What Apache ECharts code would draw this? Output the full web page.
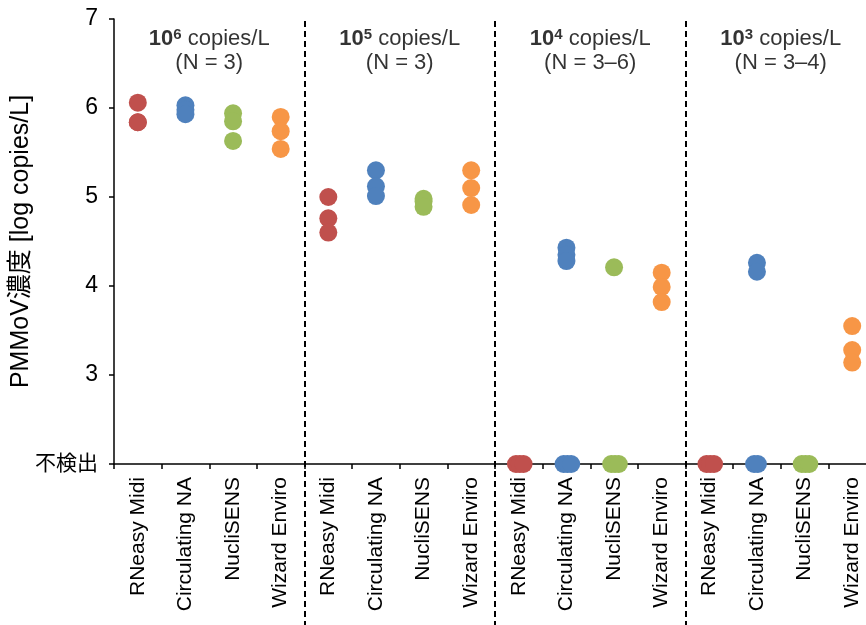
<!DOCTYPE html>
<html>
<head>
<meta charset="utf-8">
<script src="https://cdn.jsdelivr.net/npm/echarts@6/dist/echarts.min.js"></script>
<style>
html,body{margin:0;padding:0;background:#fff;}
#chart{width:866px;height:625px;}
</style>
</head>
<body>
<div id="chart"></div>
<script>
// ---- data ----
const methods = ['RNeasy Midi', 'Circulating NA', 'NucliSENS', 'Wizard Enviro'];
const groupExponents = ['6', '5', '4', '3'];
const groupN = ['3', '3', '3–6', '3–4'];
const yTicks = [3, 4, 5, 6, 7];
const ndLabel = '不検出';
const ndValue = 2;
// per method: one array per concentration group; 'ND' = not detected
const rneasy      = [[6.06, 5.84, 5.84], [5.00, 4.76, 4.60], ['ND', 'ND', 'ND'], ['ND', 'ND', 'ND']];
const circulating = [[6.03, 5.98, 5.93], [5.30, 5.12, 5.01], [4.43, 4.35, 4.28, 'ND', 'ND', 'ND'], [4.26, 4.16, 'ND', 'ND']];
const nuclisens   = [[5.94, 5.85, 5.63], [4.98, 4.95, 4.89], [4.21, 'ND', 'ND', 'ND'], ['ND', 'ND', 'ND']];
const wizard      = [[5.90, 5.74, 5.54], [5.30, 5.10, 4.91], [4.15, 3.99, 3.82], [3.55, 3.28, 3.14]];
const seriesValues = [rneasy, circulating, nuclisens, wizard];
const colors = ['#C0504D', '#4F81BD', '#9BBB59', '#F79646'];

// ---- build ----
const categories = [];
groupExponents.forEach(() => methods.forEach(m => categories.push(m)));
const ndSpread = [-0.06, 0.02, 0.1];

const series = methods.map((m, mi) => {
  const data = [];
  seriesValues[mi].forEach((vals, gi) => {
    const idx = gi * methods.length + mi;
    let nd = 0;
    vals.forEach(v => {
      if (v === 'ND') {
        data.push([idx + 0.5 + ndSpread[nd % ndSpread.length], ndValue]);
        nd++;
      } else {
        data.push([idx + 0.5, v]);
      }
    });
  });
  return {
    name: m, type: 'scatter', xAxisIndex: 1, yAxisIndex: 0,
    symbol: 'circle', symbolSize: 18,
    itemStyle: { color: colors[mi], opacity: 1 },
    emphasis: { disabled: true },
    data: data, z: 3
  };
});

const latin = 'Liberation Sans, Arial';
const headerData = groupExponents.map((e, gi) => ({
  value: [gi * methods.length + methods.length / 2, 6.64],
  label: {
    formatter: '{b|10}{sup|' + e + '}{n| copies/L}\n{n|(N = ' + groupN[gi] + ')}'
  }
}));
series.push({
  type: 'scatter', xAxisIndex: 1, yAxisIndex: 0, symbolSize: 0, silent: true,
  data: headerData,
  label: {
    show: true, position: 'inside', align: 'center', verticalAlign: 'middle',
    lineHeight: 24,
    rich: {
      b: { fontFamily: latin, fontSize: 22, fontWeight: 'bold', color: '#000', lineHeight: 24 },
      sup: { fontFamily: latin, fontSize: 15, fontWeight: 'bold', color: '#000', verticalAlign: 'top', lineHeight: 24, padding: [0, 0, 10, 0] },
      n: { fontFamily: latin, fontSize: 22, color: '#000', lineHeight: 24 }
    }
  }
});

const chart = echarts.init(document.getElementById('chart'), null, { renderer: 'canvas' });
const font = 'Liberation Sans, Arial, Noto Sans CJK JP';
chart.setOption({
  animation: false,
  backgroundColor: '#fff',
  grid: { left: 114, top: 19, width: 762, height: 445, containLabel: false, outerBoundsMode: 'none' },
  xAxis: [{
    type: 'category', data: categories, position: 'bottom',
    boundaryGap: true,
    axisLine: { show: true, lineStyle: { color: '#000', width: 1.5 } },
    axisTick: { show: true, alignWithLabel: false, length: 5, inside: false, lineStyle: { color: '#000', width: 1.5 } },
    axisLabel: { rotate: 90, fontSize: 21, color: '#000', fontFamily: font, margin: 13, interval: 0 },
    splitLine: { show: false }
  }, {
    type: 'value', min: 0, max: categories.length, show: false
  }],
  yAxis: {
    type: 'value', min: 2, max: 7, interval: 1,
    name: 'PMMoV濃度 [log copies/L]', nameLocation: 'middle', nameRotate: 90, nameGap: 80,
    nameMoveOverlap: false,
    nameTextStyle: { fontSize: 25, color: '#000', fontFamily: font },
    axisLine: { show: true, lineStyle: { color: '#000', width: 1.5 } },
    axisTick: { show: true, length: 5, lineStyle: { color: '#000', width: 1.5 } },
    axisLabel: {
      fontSize: 23, color: '#000', fontFamily: font, margin: 16,
      formatter: v => (v === ndValue ? '{nd|' + ndLabel + '}' : (yTicks.indexOf(v) >= 0 ? String(v) : '')),
      rich: { nd: { fontSize: 21, fontFamily: font, color: '#000' } }
    },
    splitLine: { show: false }
  },
  series: series
});

// dashed group separators
const lines = [];
for (let g = 1; g < groupExponents.length; g++) {
  const x = Math.round(chart.convertToPixel({ xAxisIndex: 1 }, g * methods.length));
  lines.push({
    type: 'line', shape: { x1: x, y1: 21, x2: x, y2: 625 },
    style: { stroke: '#000', lineWidth: 2, lineDash: [6, 4] }, z: 1
  });
}
chart.setOption({ graphic: lines });
</script>
</body>
</html>
